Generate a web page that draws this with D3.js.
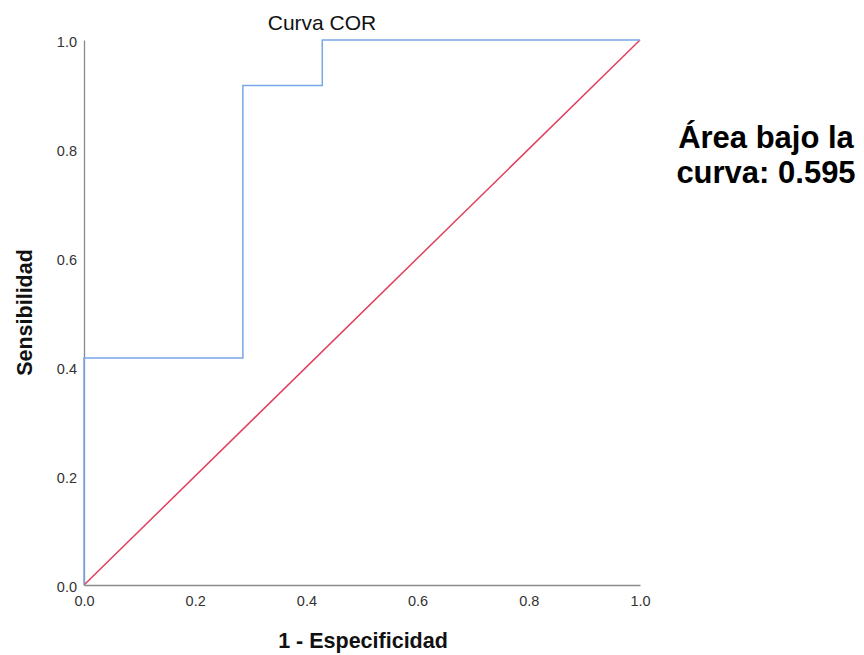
<!DOCTYPE html>
<html>
<head>
<meta charset="utf-8">
<script src="https://cdn.jsdelivr.net/npm/d3@7.9.0/dist/d3.min.js"></script>
<style>
  body { margin: 0; background: #fff; }
  svg { font-family: "Liberation Sans", Arial, sans-serif; }
</style>
</head>
<body>
<svg id="chart" width="864" height="655"></svg>
<script>
// ROC curve points (1 - specificity, sensitivity)
const fpr = [0, 0, 2 / 7, 2 / 7, 3 / 7, 3 / 7, 1];
const tpr = [0, 5 / 12, 5 / 12, 11 / 12, 11 / 12, 1, 1];
const refLine = [[0, 0], [1, 1]];
const ticks = [0, 0.2, 0.4, 0.6, 0.8, 1.0];
const aucLabel = ["Área bajo la", "curva: 0.595"];

const svg = d3.select("#chart");
const margin = { left: 84, right: 224, top: 40, bottom: 70 };
const W = 864, H = 655;

const x = d3.scaleLinear().domain([0, 1]).range([margin.left, W - margin.right]);
const y = d3.scaleLinear().domain([0, 1]).range([H - margin.bottom, margin.top]);

// axes
const xAxis = svg.append("g")
  .attr("transform", `translate(0,${y(0)})`)
  .call(d3.axisBottom(x).tickValues(ticks).tickFormat(d3.format(".1f")).tickSize(0).tickPadding(11));
const yAxis = svg.append("g")
  .attr("transform", `translate(${x(0)},0)`)
  .call(d3.axisLeft(y).tickValues(ticks).tickFormat(d3.format(".1f")).tickSize(0).tickPadding(7));

[xAxis, yAxis].forEach(g => {
  g.select(".domain").attr("stroke", "#8a8a8a").attr("stroke-width", 1.3);
  g.selectAll("text").attr("fill", "#333").style("font-size", "14.5px")
    .style("font-family", "'Liberation Sans', Arial, sans-serif");
});
yAxis.selectAll(".tick text").attr("dy", "0.45em");

// reference diagonal
svg.append("path")
  .datum(refLine)
  .attr("fill", "none")
  .attr("stroke", "#e0405f")
  .attr("stroke-width", 1.5)
  .attr("d", d3.line().x(d => x(d[0])).y(d => y(d[1])));

// ROC curve
const roc = fpr.map((v, i) => [v, tpr[i]]);
svg.append("path")
  .datum(roc)
  .attr("fill", "none")
  .attr("stroke", "#78a6e8")
  .attr("stroke-width", 1.5)
  .attr("d", d3.line().x(d => x(d[0])).y(d => y(d[1])));

// title
svg.append("text")
  .attr("x", 322).attr("y", 30)
  .attr("text-anchor", "middle")
  .style("font-size", "21px")
  .attr("fill", "#111")
  .text("Curva COR");

// axis labels
svg.append("text")
  .attr("x", 363).attr("y", 648)
  .attr("text-anchor", "middle")
  .style("font-size", "21.5px").style("font-weight", "bold")
  .attr("fill", "#111")
  .text("1 - Especificidad");

svg.append("text")
  .attr("transform", `translate(32,${(y(0) + y(1)) / 2}) rotate(-90)`)
  .attr("text-anchor", "middle")
  .style("font-size", "21.5px").style("font-weight", "bold")
  .attr("fill", "#111")
  .text("Sensibilidad");

// AUC annotation
svg.append("text")
  .attr("x", 766).attr("y", 148)
  .attr("text-anchor", "middle")
  .style("font-size", "31px").style("font-weight", "bold")
  .attr("fill", "#000")
  .selectAll("tspan")
  .data(aucLabel)
  .join("tspan")
  .attr("x", 766)
  .attr("dy", (d, i) => i === 0 ? 0 : 35)
  .text(d => d);
</script>
</body>
</html>
